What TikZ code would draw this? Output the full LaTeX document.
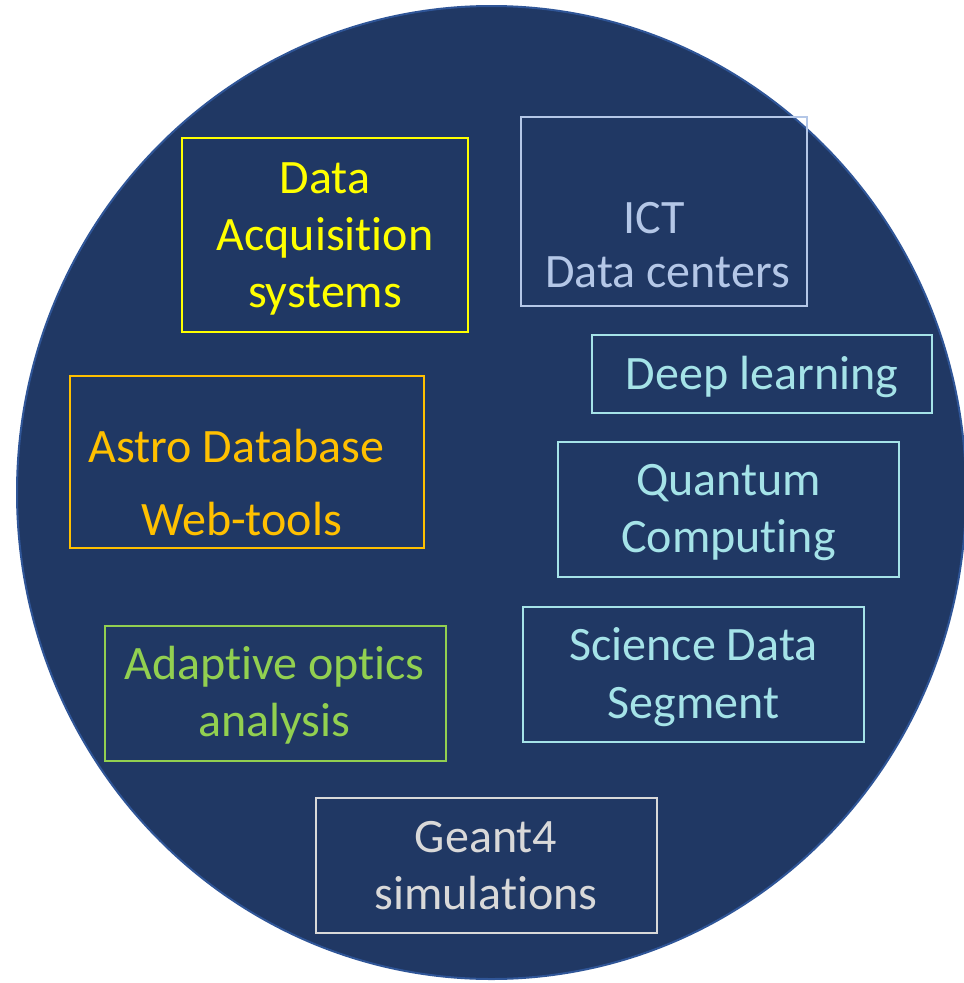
\documentclass[tikz,border=0pt]{standalone}
\usepackage{fontspec}
\setmainfont[RawFeature={-liga}]{Carlito}
\definecolor{navy}{HTML}{203864}
\definecolor{rim}{HTML}{2F5597}
\definecolor{dacqcol}{HTML}{FFFF00}
\definecolor{ictcol}{HTML}{B4C7E7}
\definecolor{astrocol}{HTML}{FFC000}
\definecolor{tealcol}{HTML}{A5E3E8}
\definecolor{aocol}{HTML}{92D050}
\definecolor{geantcol}{HTML}{D9D9D9}
\tikzset{
  topicbox/.style={draw=#1, line width=2pt, rectangle, inner sep=0pt},
  topictext/.style={text=#1, anchor=base, inner sep=0pt,
    font=\fontsize{48}{57}\selectfont},
}
\begin{document}
\begin{tikzpicture}[x=1pt, y=-1pt]
\useasboundingbox (0,0) rectangle (964,983);
% background disc
\draw[fill=navy, draw=rim, line width=2pt] (491.5,492.5) ellipse [x radius=474.5, y radius=486.5];

% Data acquisition
\node[topicbox=dacqcol, minimum width=286pt, minimum height=194pt] (dacq) at (325,235) {};
\node[topictext=dacqcol] (dacq1) at (325,193) {Data};
\node[topictext=dacqcol] (dacq2) at (325,250) {Acquisition};
\node[topictext=dacqcol] (dacq3) at (325,307) {systems};

% ICT
\node[topicbox=ictcol, minimum width=286pt, minimum height=189pt] (ict) at (664,211.5) {};
\node[topictext=ictcol] (ict1) at (654,233) {ICT};
\node[topictext=ictcol] (ict2) at (667.5,287) {Data centers};

% Deep learning
\node[topicbox=tealcol, minimum width=340pt, minimum height=78pt] (deep) at (762,374) {};
\node[topictext=tealcol] (deep1) at (762,389) {Deep learning};

% Astro database
\node[topicbox=astrocol, minimum width=354pt, minimum height=172pt] (astro) at (247,462) {};
\node[topictext=astrocol] (astro1) at (236.5,462) {Astro Database};
\node[topictext=astrocol] (astro2) at (241.5,535) {Web-tools};

% Quantum computing
\node[topicbox=tealcol, minimum width=341pt, minimum height=135pt] (qc) at (728.5,509.5) {};
\node[topictext=tealcol] (qc1) at (728.5,495) {Quantum};
\node[topictext=tealcol] (qc2) at (728.5,552) {Computing};

% Science data segment
\node[topicbox=tealcol, minimum width=341pt, minimum height=135pt] (sds) at (693.5,674.5) {};
\node[topictext=tealcol] (sds1) at (693.5,660) {Science Data};
\node[topictext=tealcol] (sds2) at (693.5,718) {Segment};

% Adaptive optics
\node[topicbox=aocol, minimum width=341pt, minimum height=135pt] (ao) at (275.5,693) {};
\node[topictext=aocol] (ao1) at (274.5,679) {Adaptive optics};
\node[topictext=aocol] (ao2) at (274.5,736) {analysis};

% Geant4
\node[topicbox=geantcol, minimum width=341pt, minimum height=135pt] (g4) at (486.5,865) {};
\node[topictext=geantcol] (g41) at (486,852) {Geant4};
\node[topictext=geantcol] (g42) at (486,909) {simulations};
\end{tikzpicture}
\end{document}
